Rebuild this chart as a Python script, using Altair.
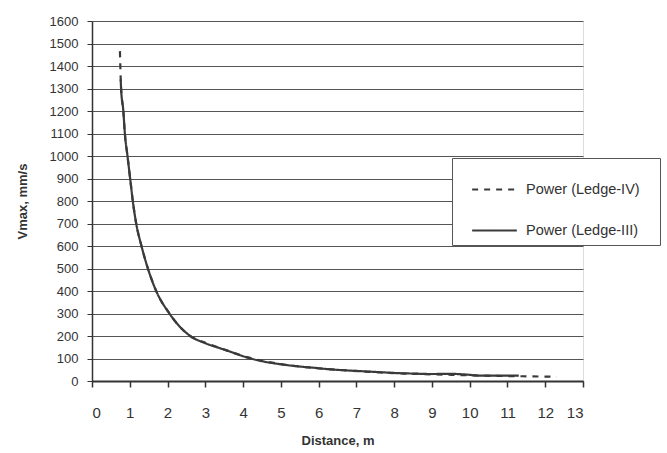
import altair as alt
import pandas as pd

# Series
ledge4_dist = [0.74, 0.75, 0.77, 0.83, 0.87, 0.94, 1.01, 1.08, 1.17, 1.31, 1.48, 1.70,
               2.05, 2.60, 3.00, 3.40, 4.10, 4.97, 5.87, 6.75, 7.64, 8.50, 9.40,
               10.30, 11.40, 12.30]
ledge4_v = [1466, 1400, 1300, 1200, 1100, 1000, 900, 800, 700, 600, 500, 400,
            300, 200, 170, 146, 106, 76, 58, 47, 38, 32, 28,
            24, 21, 19]

ledge3_dist = [0.76, 0.77, 0.83, 0.87, 0.94, 1.01, 1.08, 1.17, 1.31, 1.48, 1.70, 2.05,
               2.60, 3.00, 3.40, 3.70, 4.10, 4.50, 4.97, 5.40, 5.87, 6.30, 6.75, 7.20,
               7.64, 8.10, 8.50, 9.00, 9.40, 9.80, 10.30, 10.80, 11.30]
ledge3_v = [1340, 1300, 1200, 1100, 1000, 900, 800, 700, 600, 500, 400, 300,
            200, 168, 145, 128, 105, 88, 75, 66, 59, 52, 47, 43,
            39, 35, 33, 31, 32, 30, 24, 24, 24]

series_names = ["Power (Ledge-IV)", "Power (Ledge-III)"]
x_ticks = list(range(0, 14))
y_ticks = list(range(0, 1700, 100))

rows = []
for d, v in zip(ledge4_dist, ledge4_v):
    rows.append({"dist": d, "v": v, "series": series_names[0]})
for d, v in zip(ledge3_dist, ledge3_v):
    rows.append({"dist": d, "v": v, "series": series_names[1]})
df = pd.DataFrame(rows)

FONT = "Liberation Sans"
INK = "#333333"

chart = alt.Chart(df).mark_line(strokeWidth=2.2, color="#3a3a3a", interpolate="monotone").encode(
    x=alt.X("dist:Q",
            scale=alt.Scale(domain=[0, 13], nice=False),
            axis=alt.Axis(values=x_ticks, title="Distance, m", grid=False,
                          tickSize=6, tickColor=INK, tickWidth=1.5,
                          domainColor=INK, domainWidth=2,
                          labelFontSize=15, labelPadding=18, labelColor=INK,
                          labelFont=FONT, titleFont=FONT, titleFontSize=13,
                          titleFontWeight="bold", titleColor=INK, titlePadding=14)),
    y=alt.Y("v:Q",
            scale=alt.Scale(domain=[0, 1600], nice=False),
            axis=alt.Axis(values=y_ticks, format="d", title="Vmax, mm/s", grid=True,
                          gridColor="#555555", gridWidth=1.2,
                          tickSize=5, tickColor=INK, domainColor=INK, domainWidth=1.5,
                          labelFontSize=13, labelPadding=9, labelColor=INK,
                          labelFont=FONT, titleFont=FONT, titleFontSize=13,
                          titleFontWeight="bold", titleColor=INK, titlePadding=20)),
    strokeDash=alt.StrokeDash("series:N",
                              scale=alt.Scale(domain=series_names, range=[[6, 6], [1, 0]]),
                              legend=alt.Legend(title=" ", titleOrient="right", titlePadding=12,
                                                orient="none",
                                                legendX=360, legendY=137,
                                                symbolType="stroke", symbolSize=2000,
                                                symbolStrokeWidth=2, symbolStrokeColor="#3a3a3a",
                                                symbolOffset=11,
                                                labelFontSize=14.5, labelFont=FONT, labelColor=INK,
                                                labelOffset=8,
                                                rowPadding=11, padding=8,
                                                strokeColor="#555555", fillColor="white")),
    order=alt.Order("dist:Q"),
).properties(
    width=491, height=360,
    autosize=alt.AutoSizeParams(type="none"),
    padding={"left": 92, "top": 21, "right": 84, "bottom": 72},
).configure_view(stroke="transparent").configure(background="white")

chart.save("out.html", embed_options={"renderer": "svg", "actions": False})
